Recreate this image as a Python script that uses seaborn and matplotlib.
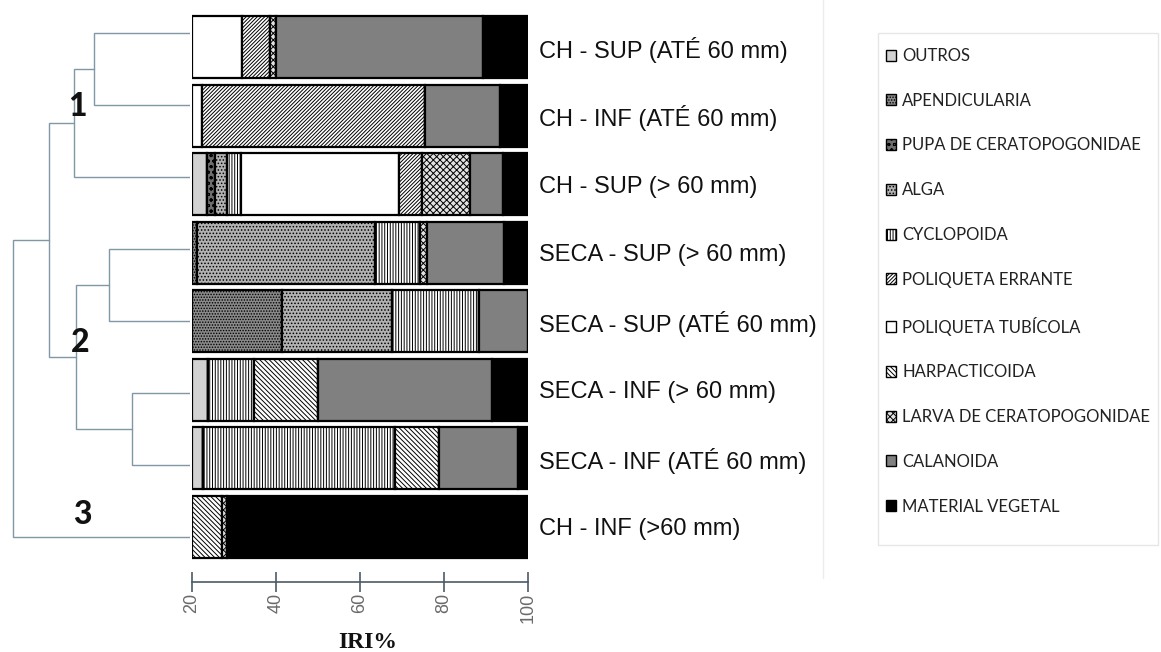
import matplotlib
matplotlib.use("Agg")
import matplotlib.pyplot as plt
from matplotlib.patches import Patch, Rectangle
from matplotlib.lines import Line2D
import seaborn as sns
import numpy as np
import pandas as pd

# ---------------- data ----------------
samples = ["CH - SUP (ATÉ 60 mm)", "CH - INF (ATÉ 60 mm)", "CH - SUP (> 60 mm)",
           "SECA - SUP (> 60 mm)", "SECA - SUP (ATÉ 60 mm)", "SECA - INF (> 60 mm)",
           "SECA - INF (ATÉ 60 mm)", "CH - INF (>60 mm)"]

axis_start = 20
x_ticks = [20, 40, 60, 80, 100]

# segment widths (IRI% axis units) per sample, in stacking order left -> right
outros        = [0.0, 0.0, 3.5, 0.0, 0.0, 3.9, 2.5, 0.0]
apendicularia = [0.0, 0.0, 0.0, 1.3, 21.5, 0.0, 0.0, 0.0]
pupa          = [0.0, 0.0, 2.0, 0.0, 0.0, 0.0, 0.0, 0.0]
alga          = [0.0, 0.0, 2.8, 42.3, 26.1, 0.0, 0.0, 0.0]
cyclopoida    = [0.0, 0.0, 3.4, 10.7, 20.7, 10.9, 45.8, 0.0]
pol_tubicola  = [11.8, 2.3, 37.6, 0.0, 0.0, 0.0, 0.0, 0.0]
pol_errante   = [6.8, 53.2, 5.5, 0.0, 0.0, 0.0, 0.0, 0.0]
harpacticoida = [0.0, 0.0, 0.0, 0.0, 0.0, 15.3, 10.6, 7.1]
larva         = [1.4, 0.0, 11.4, 1.7, 0.0, 0.0, 0.0, 1.2]
calanoida     = [49.3, 17.8, 7.8, 18.3, 11.7, 41.3, 18.8, 0.0]
mat_vegetal   = [10.7, 6.7, 6.0, 5.7, 0.0, 8.6, 2.3, 71.7]

stack_order = ["OUTROS", "APENDICULARIA", "PUPA DE CERATOPOGONIDAE", "ALGA", "CYCLOPOIDA",
               "POLIQUETA TUBÍCOLA", "POLIQUETA ERRANTE", "HARPACTICOIDA",
               "LARVA DE CERATOPOGONIDAE", "CALANOIDA", "MATERIAL VEGETAL"]
legend_order = ["OUTROS", "APENDICULARIA", "PUPA DE CERATOPOGONIDAE", "ALGA", "CYCLOPOIDA",
                "POLIQUETA ERRANTE", "POLIQUETA TUBÍCOLA", "HARPACTICOIDA",
                "LARVA DE CERATOPOGONIDAE", "CALANOIDA", "MATERIAL VEGETAL"]
values = {
    "OUTROS": outros, "APENDICULARIA": apendicularia, "PUPA DE CERATOPOGONIDAE": pupa,
    "ALGA": alga, "CYCLOPOIDA": cyclopoida, "POLIQUETA TUBÍCOLA": pol_tubicola,
    "POLIQUETA ERRANTE": pol_errante, "HARPACTICOIDA": harpacticoida,
    "LARVA DE CERATOPOGONIDAE": larva, "CALANOIDA": calanoida,
    "MATERIAL VEGETAL": mat_vegetal,
}

# dendrogram: (node_a, node_b, merge distance); leaves 0..7, new nodes numbered from 8
merges = [(0, 1, 0.505), (8, 2, 0.61), (3, 4, 0.426), (5, 6, 0.305),
          (10, 11, 0.60), (9, 12, 0.742), (13, 7, 0.933)]
cluster_labels = ["1", "2", "3"]

# ---------------- styles ----------------
styles = {
    "OUTROS": ("#d2d2d2", ""),
    "APENDICULARIA": ("#8a8a8a", "......"),
    "PUPA DE CERATOPOGONIDAE": ("#6e6e6e", "ooo"),
    "ALGA": ("#b2b2b2", "....."),
    "CYCLOPOIDA": ("#ffffff", "||||||"),
    "POLIQUETA ERRANTE": ("#ffffff", "/////////"),
    "POLIQUETA TUBÍCOLA": ("#ffffff", ""),
    "HARPACTICOIDA": ("#ffffff", "\\" * 7),
    "LARVA DE CERATOPOGONIDAE": ("#e2e2e2", "xxxxx"),
    "CALANOIDA": ("#808080", ""),
    "MATERIAL VEGETAL": ("#000000", ""),
}

W, H = 1161, 652
sns.set_style("white")
plt.rcParams["hatch.linewidth"] = 0.7
plt.rcParams["font.family"] = ["Liberation Sans", "DejaVu Sans"]

fig = plt.figure(figsize=(W / 100, H / 100), dpi=100)


def px_axes(x0, y0, x1, y1):
    return fig.add_axes([x0 / W, 1 - y1 / H, (x1 - x0) / W, (y1 - y0) / H])


# ---------------- stacked bars ----------------
ax = px_axes(192, 13, 528, 561)
left = np.full(len(samples), float(axis_start))
for cat in stack_order:
    vals = np.asarray(values[cat], dtype=float)
    face, hatch = styles[cat]
    df = pd.DataFrame({"sample": samples, "iri": vals})
    sns.barplot(data=df, x="iri", y="sample", order=samples, orient="y", ax=ax,
                color=face, saturation=1, hatch=hatch, edgecolor="black",
                linewidth=1.6, width=0.9, left=left, errorbar=None)
    left = left + vals

axis_col = "#4d5b66"
ax.set_xlim(axis_start, 100)
ax.set_ylim(len(samples) - 0.5, -0.5)
ax.set_xticks(x_ticks)
ax.set_xticklabels([str(t) for t in x_ticks])
ax.set_xlabel("")
ax.set_ylabel("")
for s in ["top", "right", "left"]:
    ax.spines[s].set_visible(False)
ax.spines["bottom"].set_position(("outward", 15))
ax.spines["bottom"].set_color(axis_col)
ax.spines["bottom"].set_linewidth(1.2)
ax.tick_params(axis="x", bottom=True, direction="inout", length=14, width=1.2,
               color=axis_col, labelcolor="#6a6a6a", labelsize=13, pad=1,
               labelrotation=90)
ax.yaxis.tick_right()
ax.tick_params(axis="y", left=False, right=False, length=0, pad=8, labelsize=17,
               labelcolor="#111111")
for lbl in ax.get_yticklabels():
    lbl.set_fontfamily("Liberation Sans")

fig.text(368 / W, 1 - 642 / H, "IRI%", ha="center", va="center",
         fontsize=17, fontweight="bold", family="Liberation Serif", color="#111111")

# ---------------- dendrogram ----------------
leaf_top, leaf_step = 33.1, 72.03
dax = fig.add_axes([0, 1 - (leaf_top + 7.5 * leaf_step) / H, 190 / W, 8 * leaf_step / H])
dax.set_xlim(1.0, 0.0)
dax.set_ylim(7.5, -0.5)
dax.axis("off")
node_x = {i: 0.0 for i in range(len(samples))}
node_y = {i: float(i) for i in range(len(samples))}
nid = len(samples)
dcol = "#7f97a6"
for a, b, h in merges:
    dax.plot([node_x[a], h, h, node_x[b]], [node_y[a], node_y[a], node_y[b], node_y[b]],
             color=dcol, lw=1.0, solid_joinstyle="miter")
    node_x[nid] = h
    node_y[nid] = (node_y[a] + node_y[b]) / 2
    nid += 1

for lab, (px, py) in zip(cluster_labels, [(77, 106), (80, 342), (82, 515)]):
    fig.text(px / W, 1 - py / H, lab, ha="center", va="center", fontsize=23,
             fontweight="black", family="Lato", color="#111111")

# ---------------- legend ----------------
fig.add_artist(Line2D([823 / W, 823 / W], [1.0, 1 - 578 / H], color="#ececec", lw=1.0))
fig.add_artist(Rectangle((878 / W, 1 - 545 / H), (1158 - 878) / W, (545 - 33) / H,
                         transform=fig.transFigure, fill=False, edgecolor="#e6e6e6", lw=1.0))
handles = [Patch(facecolor=styles[c][0], hatch=styles[c][1], edgecolor="black", lw=1.0)
           for c in legend_order]
leg = fig.legend(handles, legend_order, loc="upper left",
                 bbox_to_anchor=(886 / W, 1 - 48 / H), frameon=False,
                 prop={"family": "Lato", "size": 12}, handlelength=0.62, handleheight=0.62,
                 handletextpad=0.35, labelspacing=1.725, borderpad=0, borderaxespad=0)
for t in leg.get_texts():
    t.set_color("#222222")

fig.savefig("out.png", dpi=100)
